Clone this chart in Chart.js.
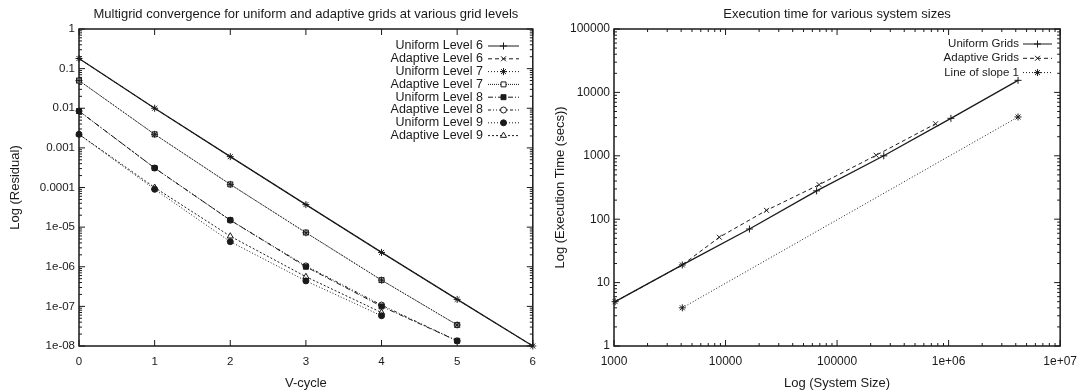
<!DOCTYPE html>
<html>
<head>
<meta charset="utf-8">
<script src="https://cdn.jsdelivr.net/npm/chart.js@4.4.1/dist/chart.umd.min.js"></script>
<style>
  html, body { margin: 0; padding: 0; background: #fff; }
  #wrap { position: relative; width: 1085px; height: 392px; }
  #c1 { position: absolute; left: 0; top: 0; }
  #c2 { position: absolute; left: 545px; top: 0; }
</style>
</head>
<body>
<div id="wrap">
  <canvas id="c1" width="545" height="392"></canvas>
  <canvas id="c2" width="540" height="392"></canvas>
</div>
<script>
// ---- left chart: residual per V-cycle ----
const vCycles = [0, 1, 2, 3, 4, 5, 6];
const uniform6 = [0.18, 0.01, 6.0e-4, 3.7e-5, 2.3e-6, 1.5e-7, 1.0e-8];
const adaptive6 = [0.18, 0.01, 6.0e-4, 3.7e-5, 2.3e-6, 1.5e-7, 1.0e-8];
const uniform7 = [0.05, 0.0022, 1.2e-4, 7.2e-6, 4.6e-7, 3.4e-8];
const adaptive7 = [0.05, 0.0022, 1.2e-4, 7.3e-6, 4.6e-7, 3.4e-8];
const uniform8 = [0.0085, 3.1e-4, 1.5e-5, 1.0e-6, 1.0e-7, 1.35e-8];
const adaptive8 = [0.0085, 3.1e-4, 1.5e-5, 1.05e-6, 1.08e-7, 1.35e-8];
const uniform9 = [0.0022, 9.0e-5, 4.3e-6, 4.4e-7, 5.8e-8];
const adaptive9 = [0.0022, 1.0e-4, 5.9e-6, 5.6e-7, 7.0e-8];
const residualTicks = [1e-8, 1e-7, 1e-6, 1e-5, 1e-4, 1e-3, 1e-2, 1e-1, 1];
const residualLabels = ['1e-08', '1e-07', '1e-06', '1e-05', '0.0001', '0.001', '0.01', '0.1', '1'];

// ---- right chart: execution time vs system size ----
const sizeUniform = [1024, 4096, 16384, 65536, 262144, 1048576, 4194304];
const timeUniform = [5, 19, 70, 280, 1000, 3900, 15500];
const sizeAdaptive = [1024, 4096, 8800, 23300, 69000, 224000, 764000];
const timeAdaptive = [5, 19, 52, 138, 350, 1020, 3200];
const sizeSlope = [4096, 4194304];
const timeSlope = [4, 4096];
const sizeTicks = [1e3, 1e4, 1e5, 1e6, 1e7];
const sizeLabels = ['1000', '10000', '100000', '1e+06', '1e+07'];
const timeTicks = [1, 10, 100, 1000, 10000, 100000];
const timeLabels = ['1', '10', '100', '1000', '10000', '100000'];

const FONT = "'Liberation Sans', Arial, sans-serif";
const INK = '#1a1a1a';

function pts(xs, ys) {
  return ys.map((y, i) => ({ x: xs[i], y: y }));
}

function series(label, xs, ys, dash, style, fill, r) {
  return {
    label: label,
    data: pts(xs, ys),
    showLine: true,
    borderColor: INK,
    borderWidth: dash.length ? 1 : 1.3,
    borderDash: dash,
    pointStyle: style,
    pointRadius: r || 3,
    pointBorderWidth: 1,
    pointBorderColor: INK,
    pointBackgroundColor: fill,
    backgroundColor: fill,
    clip: false
  };
}

// gnuplot style frame with ticks pointing inwards on all four sides
const framePlugin = {
  id: 'frame',
  beforeDatasetsDraw(chart) {
    const { ctx, chartArea: a, scales } = chart;
    ctx.save();
    ctx.strokeStyle = INK;
    ctx.lineWidth = 1;
    const seg = (x1, y1, x2, y2) => { ctx.beginPath(); ctx.moveTo(x1, y1); ctx.lineTo(x2, y2); ctx.stroke(); };
    const minors = (s) => {
      if (s.type !== 'logarithmic') return [];
      const out = [];
      for (let k = Math.floor(Math.log10(s.min)); k < Math.ceil(Math.log10(s.max)); k++) {
        for (let m = 2; m <= 9; m++) {
          const v = m * Math.pow(10, k);
          if (v > s.min && v < s.max) out.push(v);
        }
      }
      return out;
    };
    const xs = scales.x, ys = scales.y;
    xs.ticks.forEach(t => {
      const p = xs.getPixelForValue(t.value);
      seg(p, a.bottom, p, a.bottom - 6); seg(p, a.top, p, a.top + 6);
    });
    minors(xs).forEach(v => {
      const p = xs.getPixelForValue(v);
      seg(p, a.bottom, p, a.bottom - 3); seg(p, a.top, p, a.top + 3);
    });
    ys.ticks.forEach(t => {
      const p = ys.getPixelForValue(t.value);
      seg(a.left, p, a.left + 6, p); seg(a.right, p, a.right - 6, p);
    });
    minors(ys).forEach(v => {
      const p = ys.getPixelForValue(v);
      seg(a.left, p, a.left + 3, p); seg(a.right, p, a.right - 3, p);
    });
    ctx.lineWidth = 1.5;
    ctx.strokeRect(a.left, a.top, a.width, a.height);
    ctx.restore();
  }
};

// key drawn like gnuplot: text right aligned, sample line after it
const keyPlugin = {
  id: 'key',
  afterDraw(chart, args, opts) {
    const { ctx } = chart;
    ctx.save();
    ctx.font = opts.size + 'px ' + FONT;
    ctx.textAlign = 'right';
    ctx.textBaseline = 'middle';
    chart.data.datasets.forEach((ds, i) => {
      const y = opts.top + i * opts.row;
      ctx.fillStyle = INK;
      ctx.fillText(ds.label, opts.textRight, y);
      ctx.strokeStyle = INK;
      ctx.lineWidth = 1;
      ctx.setLineDash(ds.borderDash);
      ctx.beginPath();
      ctx.moveTo(opts.lineFrom, y);
      ctx.lineTo(opts.lineTo, y);
      ctx.stroke();
      ctx.setLineDash([]);
      ctx.fillStyle = ds.pointBackgroundColor;
      Chart.helpers.drawPoint(ctx, {
        pointStyle: ds.pointStyle, radius: ds.pointRadius, rotation: 0, borderWidth: 1
      }, (opts.lineFrom + opts.lineTo) / 2, y);
    });
    ctx.restore();
  }
};

function logAxis(min, max, values, labels, title, isX, size) {
  return {
    type: 'logarithmic',
    position: isX ? 'bottom' : 'left',
    min: min,
    max: max,
    grid: { display: false, drawTicks: false },
    border: { display: false },
    afterBuildTicks: (s) => { s.ticks = values.map(v => ({ value: v })); },
    ticks: {
      autoSkip: false,
      maxRotation: 0,
      padding: isX ? 8 : 4,
      color: INK,
      font: { family: FONT, size: size },
      callback: (v) => labels[values.indexOf(v)]
    },
    title: {
      display: true,
      text: title,
      color: INK,
      font: { family: FONT, size: 13 },
      padding: isX ? { top: 0, bottom: 0.5 } : { top: 8, bottom: 0 }
    }
  };
}

function titleOpts(text) {
  return {
    display: true,
    fullSize: false,
    text: text,
    color: INK,
    font: { family: FONT, size: 13, weight: 'normal' },
    padding: { top: 7, bottom: 6.4 }
  };
}

Chart.defaults.font.family = FONT;
Chart.defaults.color = INK;

new Chart(document.getElementById('c1'), {
  type: 'scatter',
  data: {
    datasets: [
      series('Uniform Level 6', vCycles, uniform6, [], 'cross', INK, 3.5),
      series('Adaptive Level 6', vCycles, adaptive6, [4, 3], 'crossRot', INK, 3.5),
      series('Uniform Level 7', vCycles, uniform7, [1, 2], 'star', INK, 3.5),
      series('Adaptive Level 7', vCycles, adaptive7, [1, 1], 'rect', '#fff', 3.5),
      series('Uniform Level 8', vCycles, uniform8, [5, 2, 1, 2], 'rect', INK, 3.5),
      series('Adaptive Level 8', vCycles, adaptive8, [3, 2, 1, 2, 1, 2], 'circle', '#fff', 3),
      series('Uniform Level 9', vCycles, uniform9, [1, 2], 'circle', INK, 3),
      series('Adaptive Level 9', vCycles, adaptive9, [2, 2], 'triangle', '#fff', 3.5)
    ]
  },
  options: {
    responsive: false,
    animation: false,
    layout: { padding: { left: 0, right: 12, top: 0, bottom: 0 } },
    plugins: {
      legend: { display: false },
      tooltip: { enabled: false },
      title: titleOpts('Multigrid convergence for uniform and adaptive grids at various grid levels'),
      key: { top: 46, row: 12.8, size: 12.5, textRight: 483, lineFrom: 488, lineTo: 519 }
    },
    scales: {
      x: {
        type: 'linear',
        min: 0,
        max: 6,
        grid: { display: false, drawTicks: false },
        border: { display: false },
        afterFit: (s) => { s.height = 46; },
        ticks: { stepSize: 1, padding: 9, color: INK, font: { family: FONT, size: 11.5 } },
        title: { display: true, text: 'V-cycle', color: INK, font: { family: FONT, size: 13 }, padding: { top: 0, bottom: 0.5 } }
      },
      y: Object.assign(logAxis(1e-8, 1, residualTicks, residualLabels, 'Log (Residual)', false, 11.5), {
        afterFit: (s) => { s.width = 79; }
      })
    }
  },
  plugins: [framePlugin, keyPlugin]
});

new Chart(document.getElementById('c2'), {
  type: 'scatter',
  data: {
    datasets: [
      series('Uniform Grids', sizeUniform, timeUniform, [], 'cross', INK, 3.5),
      series('Adaptive Grids', sizeAdaptive, timeAdaptive, [4, 3], 'crossRot', INK, 3.5),
      series('Line of slope 1', sizeSlope, timeSlope, [1, 2], 'star', INK, 3.5)
    ]
  },
  options: {
    responsive: false,
    animation: false,
    layout: { padding: { left: 0, right: 19, top: 0, bottom: 0 } },
    plugins: {
      legend: { display: false },
      tooltip: { enabled: false },
      title: titleOpts('Execution time for various system sizes'),
      key: { top: 44, row: 14.3, size: 11.5, textRight: 474, lineFrom: 478, lineTo: 507 }
    },
    scales: {
      x: Object.assign(logAxis(1e3, 1e7, sizeTicks, sizeLabels, 'Log (System Size)', true, 12), {
        afterFit: (s) => { s.height = 46; }
      }),
      y: Object.assign(logAxis(1, 1e5, timeTicks, timeLabels, 'Log (Execution Time (secs))', false, 12), {
        afterFit: (s) => { s.width = 69; }
      })
    }
  },
  plugins: [framePlugin, keyPlugin]
});
</script>
</body>
</html>
